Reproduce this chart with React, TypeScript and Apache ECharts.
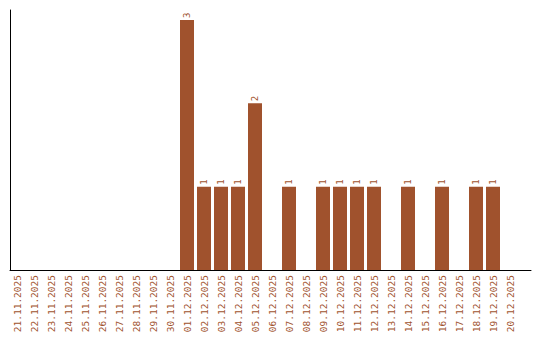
import React, { useEffect, useRef } from "react";
import * as echarts from "echarts";

const categories: string[] = [
  "21.11.2025", "22.11.2025", "23.11.2025", "24.11.2025", "25.11.2025",
  "26.11.2025", "27.11.2025", "28.11.2025", "29.11.2025", "30.11.2025",
  "01.12.2025", "02.12.2025", "03.12.2025", "04.12.2025", "05.12.2025",
  "06.12.2025", "07.12.2025", "08.12.2025", "09.12.2025", "10.12.2025",
  "11.12.2025", "12.12.2025", "13.12.2025", "14.12.2025", "15.12.2025",
  "16.12.2025", "17.12.2025", "18.12.2025", "19.12.2025", "20.12.2025",
];

const counts: number[] = [
  0, 0, 0, 0, 0, 0, 0, 0, 0, 0,
  3, 1, 1, 1, 2, 0, 1, 0, 1, 1,
  1, 1, 0, 1, 0, 1, 0, 1, 1, 0,
];

const COLOR = "#A0522D";
const FONT = "DejaVu Sans Mono";

export default function App() {
  const ref = useRef<HTMLDivElement>(null);
  useEffect(() => {
    if (!ref.current) return;
    const chart = echarts.init(ref.current, undefined, { renderer: "svg" });
    chart.setOption({
      animation: false,
      grid: [
        { left: 8.5, width: 510, top: 10, bottom: 70, containLabel: false },
        { left: 10, right: 9, top: 10, bottom: 70, containLabel: false },
      ],
      xAxis: [
        {
          type: "category",
          gridIndex: 0,
          data: categories,
          axisLine: { show: false },
          axisTick: { show: false },
          axisLabel: {
            rotate: 90,
            interval: 0,
            margin: 5,
            color: COLOR,
            fontFamily: FONT,
            fontSize: 9.5,
          },
        },
        {
          type: "value",
          gridIndex: 1,
          min: 0,
          max: 1,
          axisLine: { show: true, lineStyle: { color: "#000", width: 1 } },
          axisTick: { show: false },
          axisLabel: { show: false },
          splitLine: { show: false },
        },
      ],
      yAxis: [
        {
          type: "value",
          gridIndex: 0,
          min: 0,
          max: 3.12,
          axisLine: { show: false },
          axisTick: { show: false },
          axisLabel: { show: false },
          splitLine: { show: false },
        },
        {
          type: "value",
          gridIndex: 1,
          min: 0,
          max: 1,
          axisLine: { show: true, lineStyle: { color: "#000", width: 1 } },
          axisTick: { show: false },
          axisLabel: { show: false },
          splitLine: { show: false },
        },
      ],
      series: [
        {
          type: "bar",
          xAxisIndex: 0,
          yAxisIndex: 0,
          data: counts,
          barWidth: 14,
          itemStyle: { color: COLOR },
          label: {
            show: true,
            position: "top",
            rotate: 90,
            align: "left",
            verticalAlign: "middle",
            distance: 2,
            color: COLOR,
            fontFamily: FONT,
            fontSize: 9,
            formatter: (p: any) => (p.value ? String(p.value) : ""),
          },
        },
      ],
    });
    return () => chart.dispose();
  }, []);
  return <div ref={ref} style={{ width: 540, height: 340, margin: -8 }} />;
}
